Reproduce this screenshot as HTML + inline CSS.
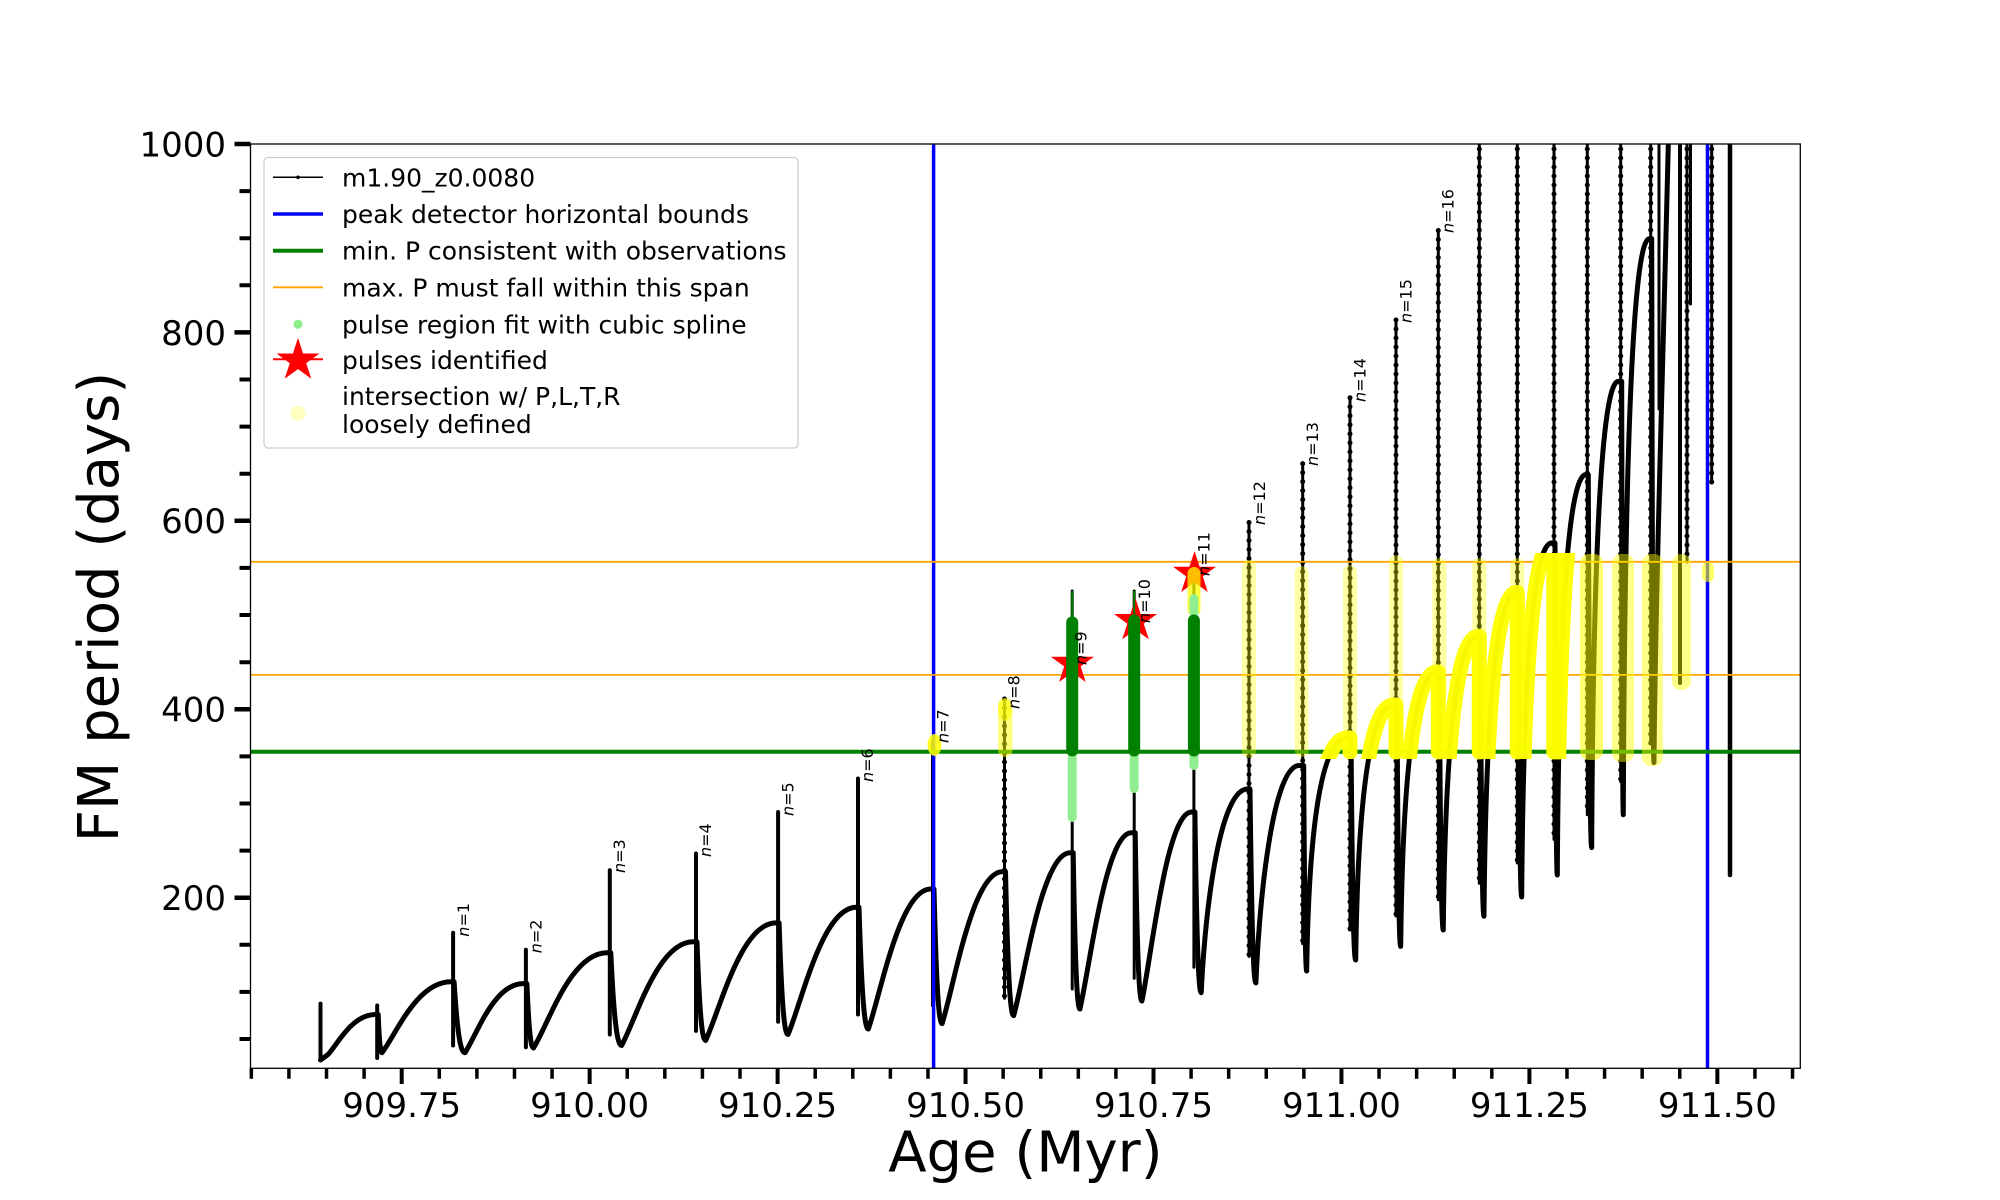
<!DOCTYPE html>
<html><head><meta charset="utf-8"><style>html,body{margin:0;padding:0;background:#fff;}svg{display:block}</style></head>
<body>
<svg width="2000" height="1200" viewBox="0 0 2000 1200" xmlns="http://www.w3.org/2000/svg" font-family="'DejaVu Sans','Liberation Sans',sans-serif">
<rect width="2000" height="1200" fill="#fff"/>
<defs>
<clipPath id="ax"><rect x="250.5" y="144" width="1549.8" height="924.3"/></clipPath>
<clipPath id="yc"><rect x="250" y="553" width="1550" height="206"/></clipPath>
</defs>

<!-- black curve -->
<g clip-path="url(#ax)" fill="none" stroke="#000" stroke-linecap="round" stroke-linejoin="round">
<path stroke-width="5" d="M320.5,1060 L328,1054.5 C337.5,1044.5 351.75,1014.5 375.5,1014.5 L377.2,1014.5
M378.2,1014.5 C379.3,1043.2 380.5,1052.7 382,1052.7 C395.8,1035 416.5,981.8 451,981.8 L453.1,981.8
M454.1,981.8 C457.4,1035 460.6,1052.7 465,1052.7 C476.5,1035.4 493.75,983.6 523.2,983.6 L525.9,983.6
M526.9,983.6 C528.9,1031.9 530.9,1048 533.5,1048 C548.2,1024.9 570.3,952.7 607.1,952.7 L609.8,952.7
M610.8,952.7 C614,1022.3 617.3,1045.5 621.6,1045.5 C636,1019.6 657.35,941.8 693.3,941.8 L696,941.8
M697,941.8 C699.6,1015.8 702.2,1040.5 705.6,1040.5 C719.6,1011.3 740.65,922.9 775.9,922.9 L778.1,922.9
M779.1,922.9 C781.8,1006.6 784.4,1034.5 788,1034.5 C801.7,1002.7 822.15,907.3 856.3,907.3 L858,907.3
M859,907.3 C861.8,998.6 864.6,1029 868.3,1029 C880.8,994 899.55,889 930.8,889 L933,889
M934,889 C936.4,990 938.9,1023.6 942.1,1023.6 C954.2,985.6 972.35,871.6 1002.6,871.6 L1004.5,871.6
M1005.5,871.6 C1008,979.6 1010.4,1015.6 1013.7,1015.6 C1025,974.9 1042,852.7 1070.3,852.7 L1072.2,852.7
M1073.2,852.7 C1075.2,969.9 1077.2,1009 1079.9,1009 C1090.2,964.9 1105.7,832.7 1131.5,832.7 L1134.2,832.7
M1135.2,832.7 C1137.2,958.9 1139.2,1001 1141.9,1001 C1151.8,953.75 1166.75,812 1191.6,812 L1193.9,812
M1194.9,812 C1196.8,947.5 1198.7,992.7 1201.2,992.7 C1205.8,901 1220.6,789 1247.5,789 L1249,789
M1250,789 C1251.8,934.4 1253.5,982.9 1255.9,982.9 C1260.2,885.1 1274.1,765.5 1299.2,765.5 L1302.7,765.5
M1303.7,765.5 C1304.6,919.6 1305.5,971 1306.7,971 C1308.7,831.2 1320.8,738 1347,738 L1350,738
M1351,738 C1352.4,904.5 1353.8,960 1355.7,960 C1357.6,807 1368.9,705 1393.3,705 L1396,705
M1397,705 C1398.1,886 1399.2,946.4 1400.7,946.4 C1402.5,781.8 1413.3,672 1436.7,672 L1438.3,672
M1439.3,672 C1440.5,865.5 1441.7,930 1443.3,930 C1445.05,753.8 1455.55,636.4 1478.3,636.4 L1479.3,636.4
M1480.3,636.4 C1481.4,846.3 1482.5,916.2 1484,916.2 C1485.6,722 1495.4,592.5 1516.7,592.5 L1517.3,592.5
M1518.3,592.5 C1519.3,820.9 1520.3,897 1521.7,897 C1523.2,684.6 1532.2,543 1551.7,543 L1554,543
M1555,543 C1555.7,792 1556.4,875 1557.3,875 C1558.7,634.8 1567.3,474.6 1586,474.6 L1587.3,474.6
M1588.3,474.6 C1589.3,754.4 1590.3,847.6 1591.7,847.6 C1593,567.9 1601,381.4 1618.3,381.4 L1620.7,381.4
M1621.7,381.4 C1622.2,706.4 1622.7,814.7 1623.3,814.7 C1624.6,469.1 1632.4,238.7 1649.3,238.7 L1650.7,238.7
M1651.7,238.7 C1652.4,631.6 1653.1,762.6 1654,762.6 C1655.5,600 1662,400 1668.3,144 L1670,100"/>
<path stroke-width="4" d="M320.5,1003.6 V1060 M377.2,1005.5 V1058 M453.1,932.7 V1045.5 M525.9,949.8 V1047.3 M609.8,870.2 V1034.5 M696,853.5 V1030.9 M778.1,812 V1021.8 M858,778.5 V1014.5 M933,742 V1005.5"/>
<path stroke-width="3" d="M1004.5,699 V998.2 M1072.2,591 V989 M1134.2,591 V978.2 M1193.9,569 V967.3 M1249,522.5 V956.4 M1302.7,463.6 V943.6 M1350,397.8 V930 M1396,320 V916 M1438.3,230.5 V899.7 M1479.3,140 V883.3 M1517.3,140 V863 M1554,140 V839.4 M1587.3,140 V814.7 M1620.7,140 V781.8 M1650.7,140 V743.4 M1659,140 V409 M1687,140 V562 M1690.5,140 V304 M1711.7,140 V483"/>
<path stroke-width="5" stroke-dasharray="0 9" d="M1004.5,699 V998.2 M1249,522.5 V956.4 M1302.7,463.6 V943.6 M1350,397.8 V930 M1396,320 V916 M1438.3,230.5 V899.7 M1479.3,140 V883.3 M1517.3,140 V863 M1554,140 V839.4 M1587.3,140 V814.7 M1620.7,140 V781.8 M1650.7,140 V743.4 M1687,140 V562 M1711.7,140 V483"/>
<path stroke-width="4" d="M1680,140 V683"/>
<path stroke-width="4.5" d="M1730,140 V875"/>
</g>

<!-- reference lines -->
<g clip-path="url(#ax)">
<line x1="933.6" y1="144" x2="933.6" y2="1068.3" stroke="#0000ff" stroke-width="3.5"/>
<line x1="1707.5" y1="144" x2="1707.5" y2="1068.3" stroke="#0000ff" stroke-width="3.5"/>
<line x1="250.5" y1="751.7" x2="1800.3" y2="751.7" stroke="#008000" stroke-width="4"/>
<line x1="250.5" y1="561.8" x2="1800.3" y2="561.8" stroke="#ffa500" stroke-width="1.8"/>
<line x1="250.5" y1="674.9" x2="1800.3" y2="674.9" stroke="#ffa500" stroke-width="1.8"/>
</g>

<!-- stars -->
<g fill="#ff0000" stroke="#ff0000" stroke-width="1">
<polygon transform="translate(1072.4,663.7)" points="0,-21 4.71,-6.49 19.97,-6.49 7.63,2.48 12.34,16.99 0,8.02 -12.34,16.99 -7.63,2.48 -19.97,-6.49 -4.71,-6.49"/>
<polygon transform="translate(1135.5,621)" points="0,-21 4.71,-6.49 19.97,-6.49 7.63,2.48 12.34,16.99 0,8.02 -12.34,16.99 -7.63,2.48 -19.97,-6.49 -4.71,-6.49"/>
<polygon transform="translate(1194.5,573.7)" points="0,-21 4.71,-6.49 19.97,-6.49 7.63,2.48 12.34,16.99 0,8.02 -12.34,16.99 -7.63,2.48 -19.97,-6.49 -4.71,-6.49"/>
</g>

<!-- yellow arcs -->
<g clip-path="url(#yc)">
<path fill="none" stroke="#ffff00" stroke-width="15" stroke-linecap="round" stroke-linejoin="round" stroke-opacity="0.97" d="M1306.7,971 C1308.7,831.2 1320.8,738 1347,738 L1350,738 V752
M1355.7,960 C1357.6,807 1368.9,705 1393.3,705 L1396,705 V752
M1400.7,946.4 C1402.5,781.8 1413.3,672 1436.7,672 L1438.3,672 V752
M1443.3,930 C1445.05,753.8 1455.55,636.4 1478.3,636.4 L1479.3,636.4 V752
M1484,916.2 C1485.6,722 1495.4,592.5 1516.7,592.5 L1517.3,592.5 V752
M1521.7,897 C1523.2,684.6 1532.2,543 1551.7,543 L1554,543 V752
M1557.3,875 C1558.7,634.8 1567.3,474.6 1586,474.6"/>
</g>

<!-- yellow columns -->
<g fill="#ffff00">
<rect x="1242" y="560" width="14" height="198" rx="7" opacity="0.35"/>
<rect x="1294.7" y="566" width="14" height="191" rx="7" opacity="0.35"/>
<rect x="1343" y="565" width="14" height="187" rx="7" opacity="0.35"/>
<rect x="1389" y="555" width="14" height="205" rx="7" opacity="0.35"/>
<rect x="1432.3" y="558" width="14" height="202" rx="7" opacity="0.35"/>
<rect x="1472.3" y="558" width="14" height="202" rx="7" opacity="0.35"/>
<rect x="1510.3" y="558" width="14" height="202" rx="7" opacity="0.35"/>
<rect x="1546" y="554" width="20" height="206" rx="8" opacity="0.4"/>
<rect x="1580" y="554" width="23" height="206" rx="9" opacity="0.55"/>
<rect x="1612" y="554" width="22" height="208" rx="9" opacity="0.45"/>
<rect x="1642" y="554" width="21" height="212" rx="9" opacity="0.45"/>
<rect x="1672" y="554" width="19" height="136" rx="9" opacity="0.45"/>
<rect x="1702" y="562" width="12" height="20" rx="6" opacity="0.6"/>
<ellipse cx="934.5" cy="745" rx="7" ry="11" opacity="0.85"/>
<rect x="998" y="698" width="14.5" height="59" rx="7" opacity="0.5"/>
<ellipse cx="1005" cy="710" rx="7" ry="11" opacity="0.6"/>
<rect x="1187.5" y="567" width="13" height="49" rx="6.5" opacity="0.75"/>
</g>

<!-- green columns -->
<g>
<rect x="1067.7" y="752" width="9" height="70" rx="4.5" fill="#90ee90"/>
<rect x="1129.7" y="752" width="9" height="41" rx="4.5" fill="#90ee90"/>
<rect x="1189.4" y="752" width="9" height="18" rx="4.5" fill="#90ee90"/>
<rect x="1189.4" y="594" width="9" height="24" rx="4.5" fill="#90ee90"/>
<line x1="1072.2" y1="591" x2="1072.2" y2="622" stroke="#008000" stroke-width="2"/>
<line x1="1134.2" y1="591" x2="1134.2" y2="620" stroke="#008000" stroke-width="2"/>
<rect x="1066.2" y="616.4" width="12" height="140" rx="6" fill="#008000"/>
<rect x="1128.2" y="614.5" width="12" height="142" rx="6" fill="#008000"/>
<rect x="1187.9" y="614.5" width="12" height="142" rx="6" fill="#008000"/>
</g>

<!-- n labels -->
<g font-size="16" fill="#000">
<text transform="translate(469,936.7) rotate(-90)"><tspan font-style="italic">n</tspan>=1</text>
<text transform="translate(541.5,953.3) rotate(-90)"><tspan font-style="italic">n</tspan>=2</text>
<text transform="translate(625,873) rotate(-90)"><tspan font-style="italic">n</tspan>=3</text>
<text transform="translate(711,857) rotate(-90)"><tspan font-style="italic">n</tspan>=4</text>
<text transform="translate(793.3,816) rotate(-90)"><tspan font-style="italic">n</tspan>=5</text>
<text transform="translate(873.2,782) rotate(-90)"><tspan font-style="italic">n</tspan>=6</text>
<text transform="translate(948.5,743) rotate(-90)"><tspan font-style="italic">n</tspan>=7</text>
<text transform="translate(1019.7,709) rotate(-90)"><tspan font-style="italic">n</tspan>=8</text>
<text transform="translate(1086.5,665) rotate(-90)"><tspan font-style="italic">n</tspan>=9</text>
<text transform="translate(1150,623) rotate(-90)"><tspan font-style="italic">n</tspan>=10</text>
<text transform="translate(1209.5,576) rotate(-90)"><tspan font-style="italic">n</tspan>=11</text>
<text transform="translate(1265,525) rotate(-90)"><tspan font-style="italic">n</tspan>=12</text>
<text transform="translate(1318,466) rotate(-90)"><tspan font-style="italic">n</tspan>=13</text>
<text transform="translate(1365.3,402) rotate(-90)"><tspan font-style="italic">n</tspan>=14</text>
<text transform="translate(1411.5,323) rotate(-90)"><tspan font-style="italic">n</tspan>=15</text>
<text transform="translate(1453.4,233) rotate(-90)"><tspan font-style="italic">n</tspan>=16</text>
</g>

<!-- axes spines -->
<rect x="250.5" y="144" width="1549.8" height="924.3" fill="none" stroke="#000" stroke-width="1.3"/>

<!-- ticks -->
<g stroke="#000" fill="none">
<path stroke-width="3.5" d="M251.34,1068.3v10.5 M288.93,1068.3v10.5 M326.52,1068.3v10.5 M364.11,1068.3v10.5 M439.29,1068.3v10.5 M476.88,1068.3v10.5 M514.47,1068.3v10.5 M552.06,1068.3v10.5 M627.24,1068.3v10.5 M664.83,1068.3v10.5 M702.42,1068.3v10.5 M740.01,1068.3v10.5 M815.19,1068.3v10.5 M852.78,1068.3v10.5 M890.37,1068.3v10.5 M927.96,1068.3v10.5 M1003.14,1068.3v10.5 M1040.73,1068.3v10.5 M1078.32,1068.3v10.5 M1115.91,1068.3v10.5 M1191.09,1068.3v10.5 M1228.68,1068.3v10.5 M1266.27,1068.3v10.5 M1303.86,1068.3v10.5 M1379.04,1068.3v10.5 M1416.63,1068.3v10.5 M1454.22,1068.3v10.5 M1491.81,1068.3v10.5 M1566.99,1068.3v10.5 M1604.58,1068.3v10.5 M1642.17,1068.3v10.5 M1679.76,1068.3v10.5 M1754.94,1068.3v10.5 M1792.53,1068.3v10.5"/>
<path stroke-width="4" d="M401.7,1068.3v15.7 M589.65,1068.3v15.7 M777.6,1068.3v15.7 M965.55,1068.3v15.7 M1153.5,1068.3v15.7 M1341.45,1068.3v15.7 M1529.4,1068.3v15.7 M1717.35,1068.3v15.7"/>
<path stroke-width="4" d="M250.5,191.1h-11 M250.5,238.2h-11 M250.5,285.3h-11 M250.5,379.5h-11 M250.5,426.6h-11 M250.5,473.7h-11 M250.5,567.9h-11 M250.5,615h-11 M250.5,662.2h-11 M250.5,756.4h-11 M250.5,803.5h-11 M250.5,850.6h-11 M250.5,944.8h-11 M250.5,991.9h-11 M250.5,1039h-11"/>
<path stroke-width="4.5" d="M250.5,144h-16 M250.5,332.4h-16 M250.5,520.8h-16 M250.5,709.3h-16 M250.5,897.7h-16"/>
</g>

<!-- tick labels -->
<g font-size="34" fill="#000" text-anchor="middle">
<text x="401.7" y="1117">909.75</text>
<text x="589.65" y="1117">910.00</text>
<text x="777.6" y="1117">910.25</text>
<text x="965.55" y="1117">910.50</text>
<text x="1153.5" y="1117">910.75</text>
<text x="1341.45" y="1117">911.00</text>
<text x="1529.4" y="1117">911.25</text>
<text x="1717.35" y="1117">911.50</text>
</g>
<g font-size="34" fill="#000" text-anchor="end">
<text x="226" y="156.4">1000</text>
<text x="226" y="344.8">800</text>
<text x="226" y="533.2">600</text>
<text x="226" y="721.7">400</text>
<text x="226" y="910.1">200</text>
</g>

<!-- axis labels -->
<text x="1025.4" y="1171.5" font-size="56" text-anchor="middle" fill="#000">Age (Myr)</text>
<text transform="translate(118,607) rotate(-90)" font-size="56" text-anchor="middle" fill="#000">FM period (days)</text>

<!-- legend -->
<rect x="264" y="157.5" width="534" height="290.5" rx="4" fill="#fff" fill-opacity="0.8" stroke="#cccccc" stroke-width="1.2"/>
<line x1="273" y1="177.3" x2="323" y2="177.3" stroke="#000" stroke-width="1.5"/>
<circle cx="298" cy="177.3" r="1.8" fill="#000"/>
<line x1="273" y1="214" x2="323" y2="214" stroke="#0000ff" stroke-width="3.5"/>
<line x1="273" y1="250.7" x2="323" y2="250.7" stroke="#008000" stroke-width="4"/>
<line x1="273" y1="287.3" x2="323" y2="287.3" stroke="#ffa500" stroke-width="1.8"/>
<circle cx="298" cy="324.3" r="4.6" fill="#90ee90"/>
<line x1="273" y1="359.3" x2="323" y2="359.3" stroke="#ff0000" stroke-width="2"/>
<polygon transform="translate(298,360.5)" fill="#ff0000" stroke="#ff0000" stroke-width="1" points="0,-21 4.71,-6.49 19.97,-6.49 7.63,2.48 12.34,16.99 0,8.02 -12.34,16.99 -7.63,2.48 -19.97,-6.49 -4.71,-6.49"/>
<circle cx="298" cy="413.3" r="7.5" fill="#ffff00" fill-opacity="0.25"/>
<g font-size="25" fill="#000">
<text x="342" y="186.3">m1.90_z0.0080</text>
<text x="342" y="223">peak detector horizontal bounds</text>
<text x="342" y="259.7">min. P consistent with observations</text>
<text x="342" y="296.3">max. P must fall within this span</text>
<text x="342" y="333.3">pulse region fit with cubic spline</text>
<text x="342" y="369">pulses identified</text>
<text x="342" y="405">intersection w/ P,L,T,R</text>
<text x="342" y="433">loosely defined</text>
</g>
</svg>
</body></html>
